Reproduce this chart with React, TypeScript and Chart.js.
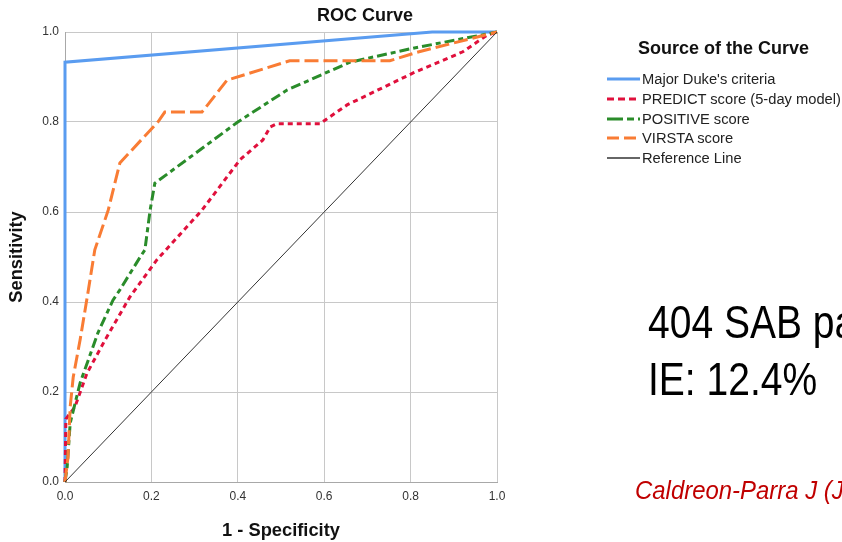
import React, { useEffect, useRef } from "react";
import { Chart, registerables } from "chart.js";

Chart.register(...registerables);

// ---- data ----
const tickValues = [0, 0.2, 0.4, 0.6, 0.8, 1.0];

const dukeX = [0, 0, 0.85, 1];
const dukeY = [0, 0.933, 1, 1];

const predictX = [0, 0.002, 0.023, 0.051, 0.093, 0.15, 0.212, 0.317, 0.405, 0.458, 0.475, 0.49, 0.59, 0.653, 0.806, 0.921, 0.977, 1];
const predictY = [0, 0.14, 0.167, 0.242, 0.316, 0.411, 0.493, 0.604, 0.716, 0.76, 0.789, 0.796, 0.796, 0.838, 0.909, 0.956, 0.993, 1];

const positiveX = [0, 0.005, 0.012, 0.035, 0.076, 0.111, 0.127, 0.174, 0.185, 0.197, 0.208, 0.4, 0.514, 0.66, 0.806, 1];
const positiveY = [0, 0.033, 0.131, 0.22, 0.331, 0.404, 0.427, 0.5, 0.516, 0.604, 0.664, 0.8, 0.871, 0.933, 0.964, 1];

const virstaX = [0, 0.007, 0.012, 0.019, 0.035, 0.053, 0.069, 0.1, 0.127, 0.215, 0.231, 0.317, 0.375, 0.52, 0.752, 0.815, 1];
const virstaY = [0, 0.056, 0.167, 0.233, 0.316, 0.42, 0.516, 0.604, 0.709, 0.8, 0.822, 0.822, 0.893, 0.936, 0.936, 0.955, 1];

const refX = [0, 1];
const refY = [0, 1];

const seriesNames = ["Major Duke's criteria", "PREDICT score (5-day model)", "POSITIVE score", "VIRSTA score", "Reference Line"];
const seriesColors = ["#5a9cf0", "#e0103c", "#2a8c2a", "#f97c34", "#333333"];
const seriesDash: number[][] = [[], [5, 4], [10, 4, 5, 4], [14, 5], []];
const seriesWidth = [3, 3, 3, 3, 1];
const legendDash = ["", "7,4", "16,4,7,4", "12,5", ""];

const pts = (xs: number[], ys: number[]) => xs.map((x, i) => ({ x, y: ys[i] }));

const FONT = "'Liberation Sans', Arial, sans-serif";

export default function App() {
  const ref = useRef<HTMLCanvasElement | null>(null);

  useEffect(() => {
    const data = [
      pts(dukeX, dukeY),
      pts(predictX, predictY),
      pts(positiveX, positiveY),
      pts(virstaX, virstaY),
      pts(refX, refY),
    ];
    const chart = new Chart(ref.current as HTMLCanvasElement, {
      type: "line",
      data: {
        datasets: data.map((d, i) => ({
          label: seriesNames[i],
          data: d,
          borderColor: seriesColors[i],
          backgroundColor: seriesColors[i],
          borderWidth: seriesWidth[i],
          borderDash: seriesDash[i],
          pointRadius: 0,
          tension: 0,
          fill: false,
          clip: false,
          order: 5 - i,
        })),
      },
      options: {
        responsive: false,
        animation: false,
        events: [],
        layout: { padding: { left: 0, right: 233, top: 32, bottom: 0 } },
        plugins: {
          legend: { display: false },
          tooltip: { enabled: false },
          title: { display: false },
        },
        scales: {
          x: {
            type: "linear",
            min: 0,
            max: 1,
            afterFit: (s: any) => {
              s.height = 60;
            },
            afterBuildTicks: (s: any) => {
              s.ticks = tickValues.map((v) => ({ value: v }));
            },
            ticks: {
              color: "#333",
              font: { family: FONT, size: 12 },
              padding: 7,
              maxRotation: 0,
              callback: (v: any) => Number(v).toFixed(1),
            },
            grid: { color: "#c8c8c8", lineWidth: 1, drawTicks: false },
            border: { color: "#a8a8a8", width: 1 },
            title: {
              display: true,
              text: "1 - Specificity",
              color: "#111",
              font: { family: FONT, size: 18.3, weight: "bold" },
              padding: { top: 0, bottom: 0 },
            },
          },
          y: {
            type: "linear",
            min: 0,
            max: 1,
            afterFit: (s: any) => {
              s.width = 65;
            },
            afterBuildTicks: (s: any) => {
              s.ticks = tickValues.map((v) => ({ value: v }));
            },
            ticks: {
              color: "#333",
              font: { family: FONT, size: 12 },
              padding: 6,
              callback: (v: any) => Number(v).toFixed(1),
            },
            grid: { color: "#c8c8c8", lineWidth: 1, drawTicks: false },
            border: { color: "#a8a8a8", width: 1 },
            title: {
              display: true,
              text: "Sensitivity",
              color: "#111",
              font: { family: FONT, size: 18.3, weight: "bold" },
              padding: { top: 6, bottom: 0 },
            },
          },
        },
      },
    } as any);
    return () => chart.destroy();
  }, []);

  return (
    <div
      style={{
        position: "fixed",
        left: 0,
        top: 0,
        width: 842,
        height: 542,
        overflow: "hidden",
        background: "#fff",
        fontFamily: FONT,
      }}
    >
      <canvas ref={ref} width={730} height={542} style={{ position: "absolute", left: 0, top: 0, width: 730, height: 542 }} />
      <div
        style={{
          position: "absolute",
          left: 265,
          width: 200,
          top: 4,
          textAlign: "center",
          fontSize: 18,
          fontWeight: "bold",
          lineHeight: "22px",
          color: "#111",
        }}
      >
        ROC Curve
      </div>
      <div style={{ position: "absolute", left: 600, top: 37, width: 250, textAlign: "left" }}>
        <div style={{ position: "absolute", left: 38, top: 0, fontSize: 18, fontWeight: "bold", color: "#111", whiteSpace: "nowrap", lineHeight: "22px" }}>
          Source of the Curve
        </div>
        {seriesNames.map((n, i) => (
          <div key={n} style={{ position: "absolute", left: 7, top: 32 + i * 19.8, height: 20, whiteSpace: "nowrap", display: "flex", alignItems: "center" }}>
            <svg width={33} height={6} style={{ display: "block" }}>
              <line x1={0} y1={3} x2={33} y2={3} stroke={seriesColors[i]} strokeWidth={i === 4 ? 1.5 : 3} strokeDasharray={legendDash[i]} />
            </svg>
            <span style={{ fontSize: 14.7, color: "#222", marginLeft: 2, lineHeight: "20px" }}>{n}</span>
          </div>
        ))}
      </div>
      <div
        style={{
          position: "absolute",
          left: 648,
          top: 293,
          fontSize: 47,
          lineHeight: "57px",
          color: "#000",
          whiteSpace: "nowrap",
          transform: "scaleX(0.83)",
          transformOrigin: "left top",
        }}
      >
        <div>404 SAB patients</div>
        <div>IE: 12.4%</div>
      </div>
      <div
        style={{
          position: "absolute",
          left: 635,
          top: 475,
          fontSize: 26,
          lineHeight: "30px",
          color: "#c00000",
          fontStyle: "italic",
          whiteSpace: "nowrap",
          transform: "scaleX(0.92)",
          transformOrigin: "left top",
        }}
      >
        Caldreon-Parra J (JAC 2020)
      </div>
    </div>
  );
}
